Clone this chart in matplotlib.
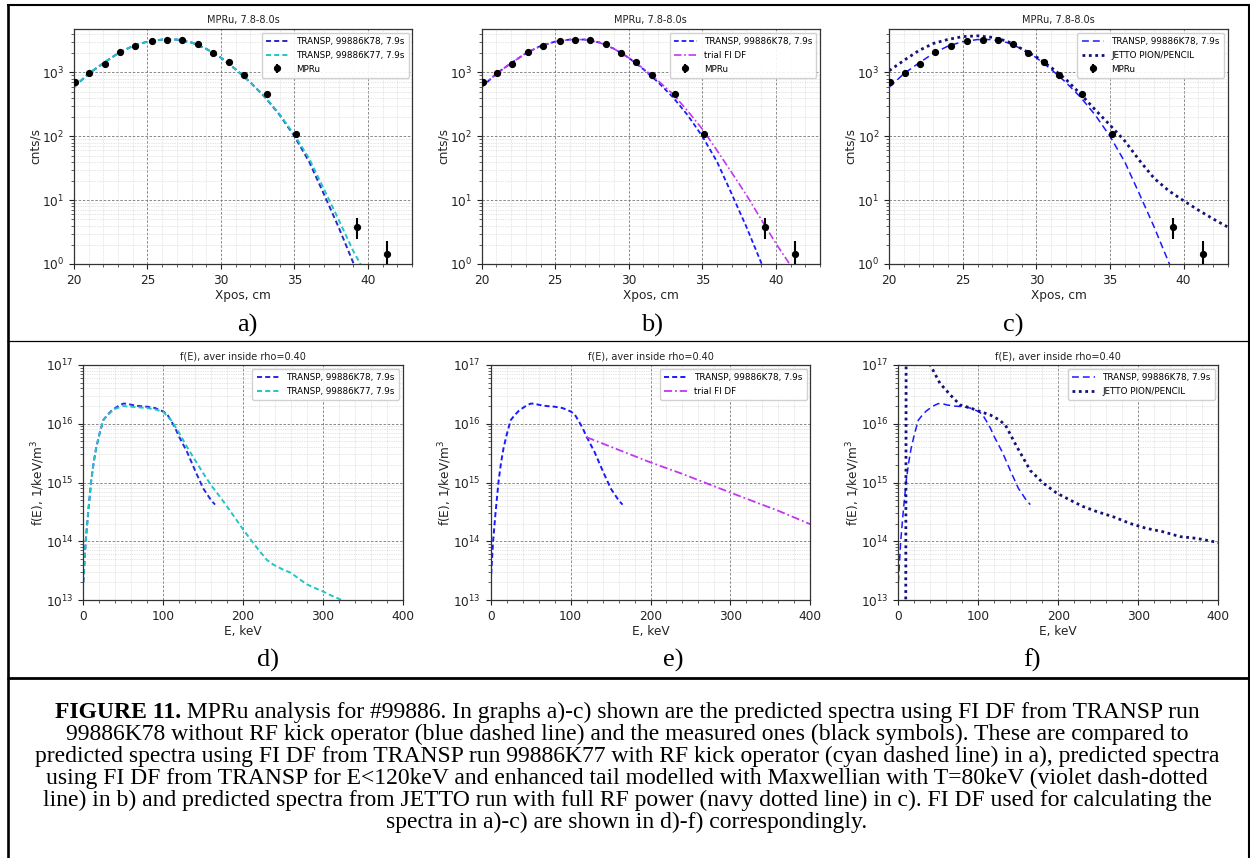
import matplotlib
matplotlib.use("Agg")
import matplotlib.pyplot as plt
from matplotlib.lines import Line2D
from matplotlib.ticker import MultipleLocator

# ---------------- data: MPRu spectra (panels a-c) ----------------
mpru_x = [20.07, 21.05, 22.09, 23.14, 24.18, 25.3, 26.36, 27.36, 28.43, 29.45,
          30.52, 31.55, 33.11, 35.14, 39.25, 41.3]
mpru_y = [722, 987, 1381, 2103, 2581, 3090, 3243, 3200, 2840, 2004,
          1485, 929, 457, 108, 3.84, 1.45]
mpru_err = [25, 30, 35, 45, 50, 55, 57, 57, 53, 45, 38, 30, 21, 10, 1.35, 0.81]

k78_x = [20, 21, 22, 23, 24, 25, 26, 27, 28, 29, 30, 31, 32, 33, 34, 35, 36, 37, 38, 39, 39.3]
k78_y = [590, 960, 1400, 2000, 2600, 3050, 3280, 3280, 2950, 2350, 1700, 1120, 700, 410,
         215, 100, 40, 12.5, 3.8, 1.05, 0.75]

k77_x = [20, 21, 22, 23, 24, 25, 26, 27, 28, 29, 30, 31, 32, 33, 34, 35, 36, 37, 38, 39, 39.6]
k77_y = [590, 960, 1400, 2000, 2600, 3050, 3280, 3280, 2950, 2350, 1700, 1120, 700, 415,
         220, 105, 45, 15, 5, 1.6, 0.9]

trial_x = [20, 21, 22, 23, 24, 25, 26, 27, 28, 29, 30, 31, 32, 33, 34, 35, 36, 37, 38, 39, 40, 41, 41.2]
trial_y = [590, 960, 1400, 2000, 2600, 3050, 3280, 3280, 2950, 2350, 1700, 1150, 740, 460,
           250, 130, 60, 27, 12, 5, 2.1, 0.95, 0.78]

jetto_x = [20, 21, 22, 23, 24, 25, 26, 27, 28, 29, 30, 31, 32, 33, 34, 35, 36, 37, 38,
           39, 40, 41, 42, 43]
jetto_y = [1070, 1550, 2200, 2850, 3300, 3650, 3750, 3550, 3100, 2350, 1750, 1200, 780,
           460, 260, 150, 85, 42, 22, 14, 9.8, 7, 5.1, 3.8]

# ---------------- data: fast-ion distribution functions (panels d-f) ----------------
fk78_E = [0, 3, 6, 10, 13, 16, 20, 25, 30, 35, 40, 45, 50, 55, 60, 70, 80, 90, 100, 105,
          110, 115, 120, 130, 140, 150, 160, 165]
fk78_f = [2e13, 1e14, 3e14, 1.1e15, 2.2e15, 3.8e15, 6.5e15, 1.15e16, 1.4e16, 1.65e16,
          1.85e16, 2.05e16, 2.2e16, 2.2e16, 2.1e16, 2.0e16, 1.95e16, 1.85e16, 1.62e16,
          1.45e16, 1.12e16, 8.5e15, 6e15, 3.3e15, 1.6e15, 8e14, 5e14, 4.2e14]

fk77_E = [0, 3, 6, 10, 13, 16, 20, 25, 30, 35, 40, 50, 60, 70, 80, 90, 100, 110, 120, 130,
          140, 150, 160, 170, 180, 190, 200, 210, 220, 230, 238, 250, 260, 270, 280, 290,
          300, 310, 320, 330]
fk77_f = [2e13, 1e14, 3e14, 1.1e15, 2.2e15, 3.8e15, 6.5e15, 1.15e16, 1.4e16, 1.6e16,
          1.8e16, 2.0e16, 1.95e16, 1.9e16, 1.85e16, 1.75e16, 1.6e16, 1.15e16, 7e15, 4e15,
          2.4e15, 1.45e15, 9e14, 6e14, 3.9e14, 2.5e14, 1.6e14, 1.05e14, 7e13, 4.8e13,
          4.0e13, 3.3e13, 2.9e13, 2.3e13, 1.85e13, 1.6e13, 1.4e13, 1.2e13, 1.05e13, 9e12]

ftrial_E = [120, 160, 200, 240, 280, 320, 360, 400]
ftrial_f = [5.9e15, 3.6e15, 2.2e15, 1.4e15, 8.6e14, 5.3e14, 3.3e14, 1.95e14]

fjetto_E = [9.3, 9.8, 20, 30, 40, 52, 65, 77, 90, 102, 115, 127, 135, 148, 165, 181, 198,
            215, 231, 248, 269, 290, 310, 331, 352, 373, 400]
fjetto_f = [8e12, 2e17, 5e17, 2.5e17, 1e17, 4.9e16, 3.1e16, 2.1e16, 1.86e16, 1.62e16,
            1.41e16, 1.15e16, 8.9e15, 4.1e15, 1.6e15, 9.8e14, 6.6e14, 5e14, 3.9e14,
            3.2e14, 2.6e14, 2e14, 1.66e14, 1.45e14, 1.2e14, 1.12e14, 9.5e13]

lbl_k78 = "TRANSP, 99886K78, 7.9s"
lbl_k77 = "TRANSP, 99886K77, 7.9s"
lbl_trial = "trial FI DF"
lbl_jetto = "JETTO PION/PENCIL"
lbl_mpru = "MPRu"

panel_labels = ["a)", "b)", "c)", "d)", "e)", "f)"]

caption_bold = "FIGURE 11."
caption_lines = [
    " MPRu analysis for #99886. In graphs a)-c) shown are the predicted spectra using FI DF from TRANSP run",
    "99886K78 without RF kick operator (blue dashed line) and the measured ones (black symbols). These are compared to",
    "predicted spectra using FI DF from TRANSP run 99886K77 with RF kick operator (cyan dashed line) in a), predicted spectra",
    "using FI DF from TRANSP for E<120keV and enhanced tail modelled with Maxwellian with T=80keV (violet dash-dotted",
    "line) in b) and predicted spectra from JETTO run with full RF power (navy dotted line) in c). FI DF used for calculating the",
    "spectra in a)-c) are shown in d)-f) correspondingly.",
]

# ---------------- styling ----------------
plt.rcParams['font.family'] = ['DejaVu Sans']
W, H = 1250, 858
fig = plt.figure(figsize=(W / 100, H / 100), dpi=100)

def px_rect(l, r, t, b):
    return [l / W, 1 - b / H, (r - l) / W, (b - t) / H]

C_BLUE = '#1a1aff'
C_CYAN = '#22c4c4'
C_MAG = '#c236f0'
C_NAVY = '#12127a'

DASH_S = (0, (2.6, 1.6))
DASH_L = (0, (4.5, 2.6))
DASHDOT = (0, (4.5, 1.6, 1.0, 1.6))
DOTTED = (0, (1.0, 1.3))

def style_axes(ax):
    ax.set_yscale('log')
    ax.minorticks_on()
    ax.grid(which='major', linestyle=(0, (3, 2)), color='#777777', linewidth=0.6)
    ax.grid(which='minor', linestyle=(0, (1, 1.5)), color='#cccccc', linewidth=0.5)
    ax.set_axisbelow(True)
    ax.tick_params(which='major', labelsize=8.7, length=3.5, width=0.8, colors='#222222')
    ax.tick_params(which='minor', length=2, width=0.6, colors='#444444')
    for s in ax.spines.values():
        s.set_color('#333333')
        s.set_linewidth(0.9)

def mpru(ax):
    ax.errorbar(mpru_x, mpru_y, yerr=mpru_err, fmt='o', color='black', ms=4.2,
                elinewidth=1.5, capsize=0, label=lbl_mpru, zorder=5)

def top_finish(ax):
    ax.set_xlim(20, 43)
    ax.set_ylim(1, 4800)
    ax.xaxis.set_major_locator(MultipleLocator(5))
    ax.xaxis.set_minor_locator(MultipleLocator(1))
    ax.set_title("MPRu, 7.8-8.0s", fontsize=7, pad=4, color='#222222')
    ax.set_xlabel("Xpos, cm", fontsize=8.7, labelpad=2, color='#222222')
    ax.set_ylabel("cnts/s", fontsize=8.7, labelpad=0, color='#222222')
    ax.legend(loc='upper right', fontsize=6.3, handlelength=2.6, borderpad=0.5,
              labelspacing=0.55, framealpha=0.9, edgecolor='#cccccc', borderaxespad=0.4)

def bot_finish(ax):
    ax.set_xlim(0, 400)
    ax.set_ylim(1e13, 1e17)
    ax.xaxis.set_major_locator(MultipleLocator(100))
    ax.xaxis.set_minor_locator(MultipleLocator(20))
    ax.set_title("f(E), aver inside rho=0.40", fontsize=7, pad=4, color='#222222')
    ax.set_xlabel("E, keV", fontsize=8.7, labelpad=2, color='#222222')
    ax.set_ylabel("f(E), 1/keV/m$^3$", fontsize=8.7, labelpad=-1, color='#222222')
    ax.legend(loc='upper right', fontsize=6.3, handlelength=2.6, borderpad=0.5,
              labelspacing=0.55, framealpha=0.9, edgecolor='#cccccc', borderaxespad=0.4)

# ---- a ----
ax = fig.add_axes(px_rect(74, 412, 29, 264))
style_axes(ax)
ax.plot(k78_x, k78_y, color='#2828c8', ls=DASH_S, lw=1.4, label=lbl_k78)
ax.plot(k77_x, k77_y, color=C_CYAN, ls=DASH_S, lw=1.4, label=lbl_k77)
mpru(ax)
top_finish(ax)

# ---- b ----
ax = fig.add_axes(px_rect(481.7, 820, 29, 264))
style_axes(ax)
ax.plot(k78_x, k78_y, color=C_BLUE, ls=DASH_S, lw=1.3, label=lbl_k78)
ax.plot(trial_x, trial_y, color=C_MAG, ls=DASHDOT, lw=1.2, label=lbl_trial)
mpru(ax)
top_finish(ax)

# ---- c ----
ax = fig.add_axes(px_rect(889.3, 1227.7, 29, 264))
style_axes(ax)
ax.plot(k78_x, k78_y, color=C_BLUE, ls=DASH_L, lw=1.1, label=lbl_k78)
ax.plot(jetto_x, jetto_y, color=C_NAVY, ls=DOTTED, lw=2.0, label=lbl_jetto)
mpru(ax)
top_finish(ax)

# ---- d ----
ax = fig.add_axes(px_rect(83.3, 402.7, 365, 600))
style_axes(ax)
ax.plot(fk78_E, fk78_f, color='#2828e0', ls=DASH_S, lw=1.4, label=lbl_k78)
ax.plot(fk77_E, fk77_f, color=C_CYAN, ls=DASH_S, lw=1.4, label=lbl_k77)
bot_finish(ax)

# ---- e ----
ax = fig.add_axes(px_rect(490.7, 810.3, 365, 600))
style_axes(ax)
ax.plot(fk78_E, fk78_f, color=C_BLUE, ls=DASH_S, lw=1.4, label=lbl_k78)
ax.plot(ftrial_E, ftrial_f, color=C_MAG, ls=DASHDOT, lw=1.3, label=lbl_trial)
bot_finish(ax)

# ---- f ----
ax = fig.add_axes(px_rect(898.3, 1218.3, 365, 600))
style_axes(ax)
ax.plot(fk78_E, fk78_f, color=C_BLUE, ls=DASH_L, lw=1.1, label=lbl_k78)
ax.plot(fjetto_E, fjetto_f, color=C_NAVY, ls=DOTTED, lw=2.0, label=lbl_jetto)
bot_finish(ax)

# ---------------- table frame ----------------
def hline(y, x0, x1, lw):
    fig.add_artist(Line2D([x0 / W, x1 / W], [1 - y / H, 1 - y / H], color='black',
                          lw=lw, transform=fig.transFigure, solid_capstyle='butt'))

def vline(x, y0, y1, lw):
    fig.add_artist(Line2D([x / W, x / W], [1 - y0 / H, 1 - y1 / H], color='black',
                          lw=lw, transform=fig.transFigure, solid_capstyle='butt'))

hline(5, 6.5, 1250, 1.5)
hline(340.5, 6.5, 1250, 0.9)
hline(677.5, 6.5, 1250, 2.0)
vline(7.5, 4, 858, 1.9)
vline(1249, 4, 858, 1.5)

# ---------------- panel labels ----------------
lab_pos = [(247, 325), (652, 325), (1013, 325), (268, 660), (673, 660), (1032, 660)]
for t, (x, y) in zip(panel_labels, lab_pos):
    fig.text(x / W, 1 - y / H, t, family='Liberation Serif', fontsize=19,
             ha='center', va='center')

# ---------------- caption ----------------
renderer = fig.canvas.get_renderer()
cap_fs = 17.0
line_y = [711, 733, 755, 777, 799, 821]
cx = 627
for i, (txt, y) in enumerate(zip(caption_lines, line_y)):
    yf = 1 - (y + 7) / H
    if i == 0:
        tb = fig.text(0, yf, caption_bold, family='Liberation Serif', fontsize=cap_fs,
                      weight='bold', va='baseline')
        tn = fig.text(0, yf, txt, family='Liberation Serif', fontsize=cap_fs, va='baseline')
        wb = tb.get_window_extent(renderer).width
        wn = tn.get_window_extent(renderer).width
        x0 = cx - (wb + wn) / 2
        tb.set_x(x0 / W)
        tn.set_x((x0 + wb) / W)
    else:
        fig.text(cx / W, yf, txt, family='Liberation Serif', fontsize=cap_fs,
                 ha='center', va='baseline')

fig.savefig("out.png", dpi=100)
